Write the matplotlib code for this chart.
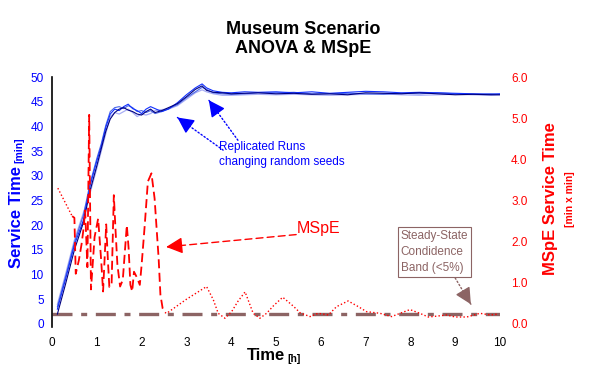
import matplotlib
matplotlib.use('Agg')
import matplotlib.pyplot as plt

plt.rcParams['font.family'] = ['Liberation Sans', 'DejaVu Sans']

# ---------------- data ----------------
run_t = [0.12, 0.3, 0.5, 0.7, 0.85, 1.0, 1.1, 1.2, 1.3, 1.4, 1.5, 1.6, 1.7, 1.8, 1.9, 2.0,
         2.1, 2.2, 2.3, 2.45, 2.6, 2.8, 3.0, 3.2, 3.35, 3.45, 3.6, 3.8, 4.0, 4.3, 4.6, 5.0,
         5.4, 5.8, 6.2, 6.6, 7.0, 7.4, 7.8, 8.2, 8.6, 9.0, 9.4, 9.8, 10.0]
run_a = [2.0, 8.0, 15.0, 20.5, 27.0, 32.0, 35.5, 39.0, 41.5, 42.8, 43.5, 43.8, 43.3, 43.0, 42.5, 42.3,
         43.0, 43.5, 42.8, 43.2, 43.8, 44.6, 46.0, 47.5, 48.2, 47.3, 46.9, 46.8, 46.6, 46.7, 46.8, 46.6,
         46.7, 46.5, 46.6, 46.4, 46.8, 46.7, 46.6, 46.8, 46.6, 46.4, 46.5, 46.4, 46.4]
run_b = [3.0, 9.0, 16.0, 21.0, 28.0, 33.0, 36.0, 39.8, 42.5, 43.5, 43.2, 44.0, 44.5, 43.6, 43.2, 42.6,
         43.5, 44.0, 43.6, 43.0, 43.5, 44.8, 46.4, 47.8, 48.6, 47.8, 47.2, 46.9, 46.8, 47.0, 46.9, 47.0,
         46.8, 47.0, 46.7, 46.9, 47.1, 47.0, 46.8, 46.9, 46.8, 46.7, 46.6, 46.5, 46.6]
run_c = [3.5, 9.5, 16.5, 22.0, 28.5, 33.5, 36.5, 40.2, 43.0, 43.8, 44.0, 43.6, 44.2, 43.8, 43.0, 43.2,
         42.8, 43.2, 42.6, 43.0, 43.6, 44.4, 45.8, 47.0, 47.9, 47.5, 46.8, 46.6, 46.5, 46.6, 46.8, 46.8,
         46.9, 46.6, 46.6, 46.7, 46.6, 46.5, 46.7, 46.6, 46.8, 46.6, 46.5, 46.6, 46.5]
run_d = [4.0, 10.0, 17.0, 22.5, 26.5, 31.5, 35.0, 38.5, 42.0, 42.8, 42.5, 43.0, 43.5, 42.8, 42.0, 42.5,
         42.3, 42.6, 43.2, 43.4, 43.5, 44.2, 45.5, 46.8, 47.4, 47.0, 46.6, 46.3, 46.3, 46.4, 46.5, 46.4,
         46.5, 46.4, 46.3, 46.4, 46.5, 46.6, 46.4, 46.3, 46.4, 46.5, 46.4, 46.3, 46.4]

mspe_t = [0.13, 0.45, 0.50, 0.53, 0.60, 0.66, 0.70, 0.74, 0.79, 0.83, 0.87, 0.95, 1.03, 1.10, 1.14,
          1.21, 1.25, 1.28, 1.33, 1.38, 1.42, 1.46, 1.52, 1.58, 1.67, 1.71, 1.75, 1.79, 1.83, 1.90,
          1.96, 2.00, 2.07, 2.14, 2.22, 2.29, 2.34, 2.38, 2.42, 2.47, 2.52, 2.56, 3.00, 3.45, 3.60,
          3.71, 3.86, 4.01, 4.15, 4.31, 4.49, 4.64, 4.79, 4.95, 5.15, 5.39, 5.54, 5.76, 5.94, 6.17,
          6.35, 6.61, 6.84, 7.02, 7.32, 7.58, 7.77, 7.99, 8.21, 8.40, 8.58, 8.81, 9.00, 9.26, 9.55,
          9.78, 9.96]
mspe_v = [3.30, 2.62, 2.58, 1.22, 1.55, 1.94, 2.28, 2.76, 1.38, 5.08, 0.84, 2.11, 2.56, 1.51, 0.79,
          2.42, 1.50, 0.90, 0.95, 3.13, 2.24, 1.44, 0.91, 1.07, 2.40, 1.84, 0.95, 0.79, 1.27, 1.12,
          0.95, 1.43, 2.40, 3.46, 3.66, 3.05, 2.24, 1.60, 0.71, 0.38, 0.28, 0.26, 0.60, 0.91, 0.59,
          0.26, 0.14, 0.30, 0.55, 0.78, 0.26, 0.14, 0.26, 0.45, 0.65, 0.43, 0.27, 0.18, 0.26, 0.22,
          0.42, 0.56, 0.42, 0.30, 0.26, 0.18, 0.26, 0.35, 0.26, 0.17, 0.19, 0.22, 0.17, 0.17, 0.26,
          0.22, 0.24]

band_t = [0.0, 10.0]
band_level = [2.0, 2.0]

x_ticks = [0, 1, 2, 3, 4, 5, 6, 7, 8, 9, 10]
x_marked = [2, 4, 6, 7, 8, 9]
y_ticks = [0, 5, 10, 15, 20, 25, 30, 35, 40, 45, 50]
y_marked = [15, 20, 25, 30, 35, 45]
y2_ticks = [0, 1, 2, 3, 4, 5, 6]
y2_labels = ['0.0', '1.0', '2.0', '3.0', '4.0', '5.0', '6.0']
y2_marked = [2, 3, 4, 5]

BLUE = '#0000ff'
RED = '#ff0000'
BROWN = '#8c6464'

# ---------------- figure ----------------
fig = plt.figure(figsize=(6, 3.74), dpi=100)
ax = fig.add_axes([52/600, 50/374, 448/600, 247/374])
ax2 = ax.twinx()

ax.set_xlim(0, 10)
ax.set_ylim(0, 50)
ax2.set_ylim(0, 6)

for s in ['top', 'right', 'bottom']:
    ax.spines[s].set_visible(False)
for s in ['top', 'right', 'bottom', 'left']:
    ax2.spines[s].set_visible(False)
ax.spines['left'].set_bounds(-0.7, 50)
ax.spines['left'].set_linewidth(1.2)

# ticks
ax.set_xticks(x_ticks)
ax.set_xticks(x_marked, minor=True)
ax.set_yticks(y_ticks)
ax.set_yticks(y_marked, minor=True)
ax.tick_params(axis='x', which='major', length=0, pad=9, labelsize=8.5, colors='black')
ax.tick_params(axis='x', which='minor', length=5, width=1, direction='out', color='black')
ax.tick_params(axis='y', which='major', length=0, pad=6, labelsize=8.5, labelcolor=BLUE)
ax.tick_params(axis='y', which='minor', length=6, width=1, direction='inout', color='black')
ax.grid(which='minor', axis='x', color='#ffffb0', lw=0.9)
ax.grid(which='minor', axis='y', color='#c8f5c0', lw=0.9)
ax.set_axisbelow(True)

ax2.set_yticks(y2_ticks)
ax2.set_yticklabels(y2_labels)
ax2.set_yticks(y2_marked, minor=True)
ax2.tick_params(axis='y', which='major', length=0, pad=8, labelsize=8.5, labelcolor=RED)
ax2.tick_params(axis='y', which='minor', length=5, width=1, direction='out', color='black')

# steady-state band
ax.plot(band_t, band_level, color=BROWN, lw=2.4, linestyle=(0, (6, 2.6, 1.8, 2.6)), zorder=2)

# replicated runs
ax.plot(run_t, run_d, color='#a8aef5', lw=0.9, zorder=3)
ax.plot(run_t, run_c, color='#4a66e8', lw=0.8, zorder=3)
ax.plot(run_t, run_b, color='#1030ff', lw=0.8, zorder=3)
ax.plot(run_t, run_a, color='#000080', lw=0.8, zorder=3)

# MSpE curve
ax2.plot(mspe_t[:2], mspe_v[:2], color=RED, lw=1.0, linestyle=(0, (1, 1.6)))
ax2.plot(mspe_t[1:41], mspe_v[1:41], color=RED, lw=1.3, linestyle=(0, (5, 2.5)))
ax2.plot(mspe_t[40:], mspe_v[40:], color=RED, lw=1.0, linestyle=(0, (1, 1.6)))


def arrow(axis, tail, head, color, ls):
    axis.annotate('', xy=head, xytext=tail,
                  arrowprops=dict(arrowstyle='-', color=color, lw=1.0, linestyle=ls,
                                  shrinkA=0, shrinkB=0))
    back = (head[0] + 0.12 * (tail[0] - head[0]), head[1] + 0.12 * (tail[1] - head[1]))
    axis.annotate('', xy=head, xytext=back,
                  arrowprops=dict(arrowstyle='-|>,head_length=0.9,head_width=0.45',
                                  color=color, lw=1.0, shrinkA=0, shrinkB=0,
                                  mutation_scale=11))


# annotations
ax.text(3.72, 34.3, 'Replicated Runs\nchanging random seeds', color=BLUE, fontsize=8.5,
        ha='left', va='center', linespacing=1.25, zorder=6)
arrow(ax, (4.15, 37.2), (3.50, 45.3), BLUE, ':')
arrow(ax, (3.82, 35.2), (2.80, 41.8), BLUE, ':')

ax.text(5.47, 19.3, 'MSpE', color=RED, fontsize=11.5, ha='left', va='center', zorder=6)
arrow(ax, (5.45, 18.1), (2.55, 15.6), RED, (0, (5, 3)))

ax.text(8.54, 14.5, 'Steady-State\nCondidence\nBand (<5%)', color=BROWN, fontsize=8.5,
        ha='center', va='center', multialignment='left', linespacing=1.45, zorder=6,
        bbox=dict(boxstyle='square,pad=0.25', facecolor='white', edgecolor=BROWN, lw=0.8))
arrow(ax, (9.0, 9.3), (9.35, 4.0), BROWN, ':')

# titles and axis labels
fig.text(0.505, 1 - 39/374, 'Museum Scenario\nANOVA & MSpE', ha='center', va='center',
         fontsize=13, fontweight='bold', linespacing=1.2)
fig.text(17/600, 1 - 217/374, 'Service Time', rotation=90, ha='center', va='center',
         fontsize=12, fontweight='bold', color=BLUE)
fig.text(19/600, 1 - 150/374, '[min]', rotation=90, ha='center', va='center',
         fontsize=7.5, fontweight='bold', color=BLUE)
fig.text(551/600, 1 - 199/374, 'MSpE Service Time', rotation=90, ha='center', va='center',
         fontsize=12, fontweight='bold', color=RED)
fig.text(570/600, 1 - 199/374, '[min x min]', rotation=90, ha='center', va='center',
         fontsize=7.5, fontweight='bold', color=RED)
fig.text(266/600, 1 - 356/374, 'Time', ha='center', va='center',
         fontsize=12, fontweight='bold', color='black')
fig.text(294/600, 1 - 359/374, '[h]', ha='center', va='center',
         fontsize=7.5, fontweight='bold', color='black')

fig.savefig('out.png', dpi=100, facecolor='white')
